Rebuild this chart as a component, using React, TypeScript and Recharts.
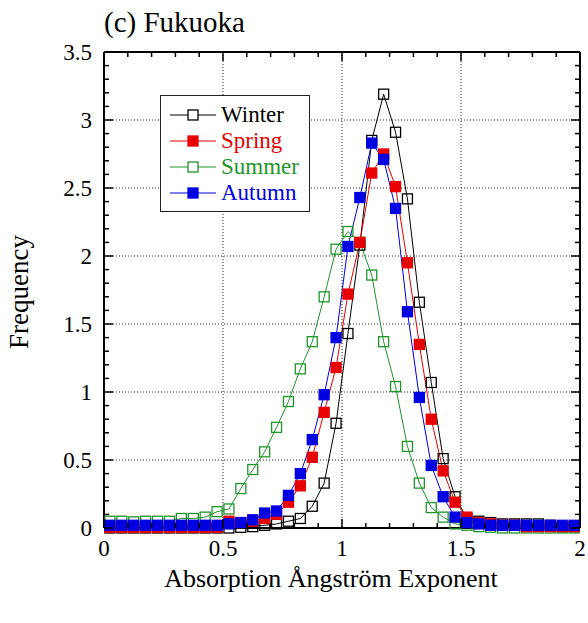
import React from "react";
import { CartesianGrid, Label, Line, LineChart, XAxis, YAxis } from "recharts";

// bin centres of the histogram (0.05 wide)
const binCenters = [
  0.025, 0.075, 0.125, 0.175, 0.225, 0.275, 0.325, 0.375, 0.425, 0.475,
  0.525, 0.575, 0.625, 0.675, 0.725, 0.775, 0.825, 0.875, 0.925, 0.975,
  1.025, 1.075, 1.125, 1.175, 1.225, 1.275, 1.325, 1.375, 1.425, 1.475,
  1.525, 1.575, 1.625, 1.675, 1.725, 1.775, 1.825, 1.875, 1.925, 1.975
];

const winter = [
  0, 0, 0, 0, 0, 0, 0, 0, 0, 0,
  0, 0.005, 0.01, 0.02, 0.03, 0.05, 0.07, 0.16, 0.33, 0.77,
  1.43, 2.08, 2.85, 3.19, 2.91, 2.42, 1.66, 1.07, 0.51, 0.23,
  0.07, 0.05, 0.04, 0.03, 0.03, 0.03, 0.03, 0.02, 0.01, 0.01
];

const spring = [
  0.005, 0.005, 0.005, 0.005, 0.005, 0.005, 0.005, 0.005, 0.005, 0.005,
  0.05, 0.04, 0.05, 0.07, 0.1, 0.19, 0.31, 0.52, 0.85, 1.18,
  1.72, 2.1, 2.61, 2.75, 2.51, 1.95, 1.35, 0.8, 0.42, 0.19,
  0.08, 0.04, 0.03, 0.02, 0.02, 0.01, 0.01, 0.01, 0.01, 0.01
];

const summer = [
  0.05, 0.05, 0.045, 0.05, 0.05, 0.05, 0.07, 0.07, 0.08, 0.12,
  0.14, 0.29, 0.43, 0.56, 0.74, 0.93, 1.17, 1.37, 1.7, 2.05,
  2.18, 2.1, 1.86, 1.37, 1.04, 0.6, 0.33, 0.15, 0.08, 0.03,
  0.02, 0.01, 0.005, 0, 0, 0, 0, 0, 0, 0
];

const autumn = [
  0.02, 0.02, 0.02, 0.02, 0.02, 0.02, 0.02, 0.02, 0.02, 0.02,
  0.03, 0.04, 0.06, 0.11, 0.125, 0.24, 0.4, 0.65, 0.98, 1.4,
  2.07, 2.43, 2.83, 2.71, 2.35, 1.59, 0.96, 0.46, 0.23, 0.08,
  0.04, 0.03, 0.02, 0.02, 0.02, 0.02, 0.02, 0.02, 0.02, 0.02
];

const xMajor = [0, 0.5, 1, 1.5, 2];
const yMajor = [0, 0.5, 1, 1.5, 2, 2.5, 3, 3.5];
const xTicks = Array.from({ length: 21 }, (_, i) => i / 10);
const yTicks = Array.from({ length: 36 }, (_, i) => i / 10);

const rows = binCenters.map((x, i) => ({
  x,
  winter: winter[i],
  spring: spring[i],
  summer: summer[i],
  autumn: autumn[i]
}));

const FONT = '"Liberation Serif", "Times New Roman", serif';
const BLACK = "#000000";
const RED = "#e60000";
const GREEN = "#1e952a";
const BLUE = "#0000e0";

const legendItems = [
  { name: "Winter", color: BLACK, filled: false },
  { name: "Spring", color: RED, filled: true },
  { name: "Summer", color: GREEN, filled: false },
  { name: "Autumn", color: BLUE, filled: true }
];

const isMajor = (v: number, majors: number[]) => majors.some((m) => Math.abs(m - v) < 1e-6);

function BottomTick(props: any) {
  const { x, y, payload } = props;
  const major = isMajor(payload.value, xMajor);
  return (
    <g>
      <line x1={x} x2={x} y1={y} y2={y - (major ? 9 : 5)} stroke={BLACK} strokeWidth={1.5} />
      {major && (
        <text x={x} y={y + 28} textAnchor="middle" fontSize={23} fontFamily={FONT} fill={BLACK}>
          {payload.value}
        </text>
      )}
    </g>
  );
}

function TopTick(props: any) {
  const { x, y, payload } = props;
  const major = isMajor(payload.value, xMajor);
  return <line x1={x} x2={x} y1={y} y2={y + (major ? 9 : 5)} stroke={BLACK} strokeWidth={1.5} />;
}

function LeftTick(props: any) {
  const { x, y, payload } = props;
  const major = isMajor(payload.value, yMajor);
  return (
    <g>
      <line x1={x} x2={x + (major ? 9 : 5)} y1={y} y2={y} stroke={BLACK} strokeWidth={1.5} />
      {major && (
        <text x={x - 12} y={y + 8} textAnchor="end" fontSize={23} fontFamily={FONT} fill={BLACK}>
          {payload.value}
        </text>
      )}
    </g>
  );
}

function RightTick(props: any) {
  const { x, y, payload } = props;
  const major = isMajor(payload.value, yMajor);
  return <line x1={x} x2={x - (major ? 9 : 5)} y1={y} y2={y} stroke={BLACK} strokeWidth={1.5} />;
}

const squareDot = (color: string, filled: boolean) => (p: any) => (
  <rect
    key={p.index}
    x={p.cx - 5}
    y={p.cy - 5}
    width={10}
    height={10}
    fill={filled ? color : "none"}
    stroke={color}
    strokeWidth={1.3}
  />
);

function LegendBox() {
  return (
    <div
      style={{
        position: "absolute",
        left: 160,
        top: 95,
        width: 150,
        height: 117,
        boxSizing: "border-box",
        border: "1.5px solid #222",
        background: "#fff",
        fontFamily: FONT,
        fontSize: 23
      }}
    >
      {legendItems.map((item, i) => (
        <div
          key={item.name}
          style={{ position: "absolute", left: 0, top: 6 + i * 26, height: 26, width: "100%" }}
        >
          <svg width={46} height={26} style={{ position: "absolute", left: 9, top: 0 }}>
            <line x1={0} x2={46} y1={13} y2={13} stroke={item.color} strokeWidth={1.2} />
            <rect
              x={18}
              y={8}
              width={10}
              height={10}
              fill={item.filled ? item.color : "#fff"}
              stroke={item.color}
              strokeWidth={1.3}
            />
          </svg>
          <span
            style={{ position: "absolute", left: 60, top: 0, lineHeight: "26px", color: item.color }}
          >
            {item.name}
          </span>
        </div>
      ))}
    </div>
  );
}

export default function App() {
  return (
    <div style={{ position: "absolute", left: 0, top: 0, width: 588, height: 623 }}>
      <LineChart width={588} height={623} data={rows} margin={{ top: 51, right: 7, bottom: 0, left: 0 }}>
        <CartesianGrid
          horizontalValues={[0.5, 1, 1.5, 2, 2.5, 3]}
          verticalValues={[0.5, 1, 1.5]}
          stroke="#222"
          strokeDasharray="1 2"
        />
        <XAxis
          dataKey="x"
          type="number"
          domain={[0, 2]}
          ticks={xTicks}
          interval={0}
          height={95}
          tickSize={0}
          tickMargin={0}
          tick={(p: any) => <BottomTick {...p} />}
          axisLine={{ stroke: BLACK, strokeWidth: 2 }}
        >
          <Label
            content={(p: any) => (
              <text
                x={p.viewBox.x + p.viewBox.width / 2 - 11}
                y={p.viewBox.y + 59}
                textAnchor="middle"
                fontSize={26}
                fontFamily={FONT}
                fill={BLACK}
              >
                Absorption Ångström Exponent
              </text>
            )}
          />
        </XAxis>
        <XAxis
          xAxisId="top"
          orientation="top"
          dataKey="x"
          type="number"
          domain={[0, 2]}
          ticks={xTicks}
          interval={0}
          height={1}
          tickSize={0}
          tickMargin={0}
          tick={(p: any) => <TopTick {...p} />}
          axisLine={{ stroke: BLACK, strokeWidth: 2 }}
        />
        <YAxis
          type="number"
          domain={[0, 3.5]}
          ticks={yTicks}
          interval={0}
          width={104}
          tickSize={0}
          tickMargin={0}
          tick={(p: any) => <LeftTick {...p} />}
          axisLine={{ stroke: BLACK, strokeWidth: 2 }}
        >
          <Label
            content={(p: any) => (
              <text
                transform={`translate(${p.viewBox.x + 28}, ${p.viewBox.y + p.viewBox.height / 2 + 2}) rotate(-90)`}
                textAnchor="middle"
                fontSize={27}
                fontFamily={FONT}
                fill={BLACK}
              >
                Frequency
              </text>
            )}
          />
        </YAxis>
        <YAxis
          yAxisId="right"
          orientation="right"
          type="number"
          domain={[0, 3.5]}
          ticks={yTicks}
          interval={0}
          width={1}
          tickSize={0}
          tickMargin={0}
          tick={(p: any) => <RightTick {...p} />}
          axisLine={{ stroke: BLACK, strokeWidth: 2 }}
        />
        {/* invisible series so the top and right frame axes get their scales */}
        <Line
          xAxisId="top"
          yAxisId="right"
          dataKey="winter"
          stroke="none"
          dot={false}
          activeDot={false}
          legendType="none"
          isAnimationActive={false}
        />
        <Line
          type="linear"
          dataKey="winter"
          stroke={BLACK}
          strokeWidth={1}
          dot={squareDot(BLACK, false)}
          activeDot={false}
          isAnimationActive={false}
        />
        <Line
          type="linear"
          dataKey="summer"
          stroke={GREEN}
          strokeWidth={1}
          dot={squareDot(GREEN, false)}
          activeDot={false}
          isAnimationActive={false}
        />
        <Line
          type="linear"
          dataKey="spring"
          stroke={RED}
          strokeWidth={1}
          dot={squareDot(RED, true)}
          activeDot={false}
          isAnimationActive={false}
        />
        <Line
          type="linear"
          dataKey="autumn"
          stroke={BLUE}
          strokeWidth={1}
          dot={squareDot(BLUE, true)}
          activeDot={false}
          isAnimationActive={false}
        />
      </LineChart>
      <div
        style={{
          position: "absolute",
          left: 104,
          top: 8,
          fontFamily: FONT,
          fontSize: 29,
          lineHeight: "28px",
          whiteSpace: "nowrap"
        }}
      >
        (c) Fukuoka
      </div>
      <LegendBox />
    </div>
  );
}
